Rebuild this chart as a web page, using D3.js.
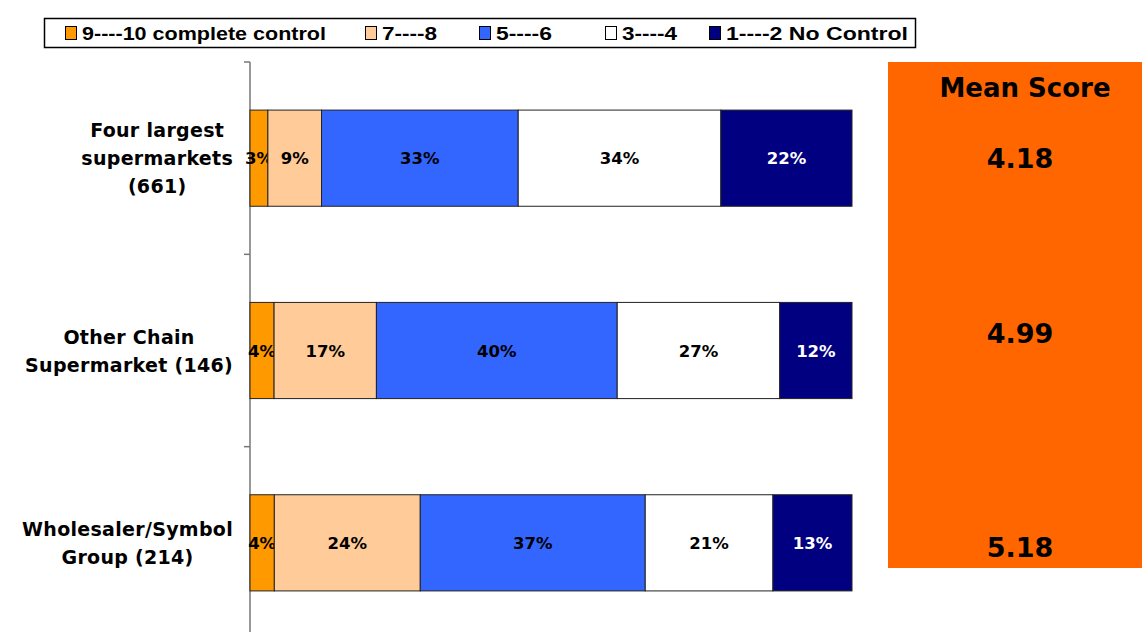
<!DOCTYPE html>
<html><head><meta charset="utf-8">
<script src="https://cdn.jsdelivr.net/npm/d3@7"></script>
<style>body{margin:0;background:#fff}svg{display:block}</style>
</head><body>
<svg id="c" width="1142" height="632"></svg>
<script>
const categories = ["Four largest supermarkets (661)", "Other Chain Supermarket (146)", "Wholesaler/Symbol Group (214)"];
const categoryLines = [["Four largest", "supermarkets", "(661)"], ["Other Chain", "Supermarket (146)"], ["Wholesaler/Symbol", "Group (214)"]];
const seriesNames = ["9----10 complete control", "7----8", "5----6", "3----4", "1----2 No Control"];
const s910 = [3, 4, 4];
const s78 = [9, 17, 24];
const s56 = [33, 40, 37];
const s34 = [34, 27, 21];
const s12 = [22, 12, 13];
const meanScores = ["4.18", "4.99", "5.18"];
const colors = ["#FF9900", "#FFCC99", "#3366FF", "#FFFFFF", "#000080"];
const textColors = ["#000", "#000", "#000", "#000", "#fff"];

const seriesVals = [s910, s78, s56, s34, s12];
const rows = categories.map((c, i) => {
  const o = {cat: c};
  seriesNames.forEach((s, j) => o[s] = seriesVals[j][i]);
  return o;
});
const svg = d3.select("#c");
const x = d3.scaleLinear().domain([0, 1]).range([250, 852]);
const y = d3.scaleBand().domain(categories).range([62, 639]).paddingInner(0.5).paddingOuter(0.25);
const stack = d3.stack().keys(seriesNames).offset(d3.stackOffsetExpand);
const stacked = stack(rows);

// axis
const ag = svg.append("g").attr("transform", "translate(250,0)");
ag.append("line").attr("x1", 0).attr("x2", 0).attr("y1", 62).attr("y2", 632).attr("stroke", "#777").attr("stroke-width", 1.5);
const step = (639 - 62) / categories.length;
d3.range(categories.length).forEach(i => {
  ag.append("line").attr("x1", -6).attr("x2", 0).attr("y1", 62 + i * step).attr("y2", 62 + i * step).attr("stroke", "#777").attr("stroke-width", 1.5);
});

stacked.forEach((layer, j) => {
  const g = svg.append("g");
  g.selectAll("rect").data(layer).join("rect")
    .attr("x", d => x(d[0])).attr("width", d => x(d[1]) - x(d[0]))
    .attr("y", d => y(d.data.cat)).attr("height", y.bandwidth())
    .attr("fill", colors[j]).attr("stroke", "#222").attr("stroke-width", 1);
  g.selectAll("text").data(layer).join("text")
    .attr("x", d => (x(d[0]) + x(d[1])) / 2)
    .attr("y", d => y(d.data.cat) + y.bandwidth() / 2 + 6)
    .attr("text-anchor", "middle")
    .attr("font-family", "DejaVu Sans").attr("font-weight", "bold").attr("font-size", 16.5)
    .attr("fill", textColors[j])
    .text(d => d.data[seriesNames[j]] + "%");
});

// category labels
categories.forEach((c, i) => {
  const lines = categoryLines[i];
  const cy = y(c) + y.bandwidth() / 2;
  const lh = 28;
  const t = svg.append("text").attr("font-family", "DejaVu Sans").attr("font-weight", "bold").attr("font-size", 19).attr("letter-spacing", 0.3).attr("fill", "#000").attr("text-anchor", "middle");
  const spans = lines.map((l, k) => t.append("tspan").attr("y", cy + (k - (lines.length - 1) / 2) * lh + 7).text(l));
  const maxW = d3.max(spans.map(s => s.node().getComputedTextLength()));
  spans.forEach(s => s.attr("x", 233 - maxW / 2));
});

// mean score box
svg.append("rect").attr("x", 888).attr("y", 62).attr("width", 254).attr("height", 506).attr("fill", "#FF6600");
svg.append("text").attr("x", 1025).attr("y", 97).attr("text-anchor", "middle")
  .attr("font-family", "DejaVu Sans").attr("font-weight", "bold").attr("font-size", 26).text("Mean Score");
const meanY = [168, 343, 557];
meanScores.forEach((m, i) => {
  svg.append("text").attr("x", 1020).attr("y", meanY[i]).attr("text-anchor", "middle")
    .attr("font-family", "DejaVu Sans").attr("font-weight", "bold").attr("font-size", 27).text(m);
});

// legend
svg.append("rect").attr("x", 44.5).attr("y", 18.5).attr("width", 871).attr("height", 29).attr("fill", "#fff").attr("stroke", "#000").attr("stroke-width", 1.5);
const legX = [65, 365, 479, 605, 709];
const legW = [244, 55, 56, 55, 182];
seriesNames.forEach((s, j) => {
  svg.append("rect").attr("x", legX[j] + 0.5).attr("y", 26.5).attr("width", 11).attr("height", 13).attr("fill", colors[j]).attr("stroke", "#000").attr("stroke-width", 1);
  svg.append("text").attr("x", legX[j] + 17).attr("y", 40).attr("font-family", "Liberation Sans").attr("font-weight", "bold").attr("font-size", 19)
    .attr("textLength", legW[j]).attr("lengthAdjust", "spacingAndGlyphs").text(s);
});
</script>
</body></html>
